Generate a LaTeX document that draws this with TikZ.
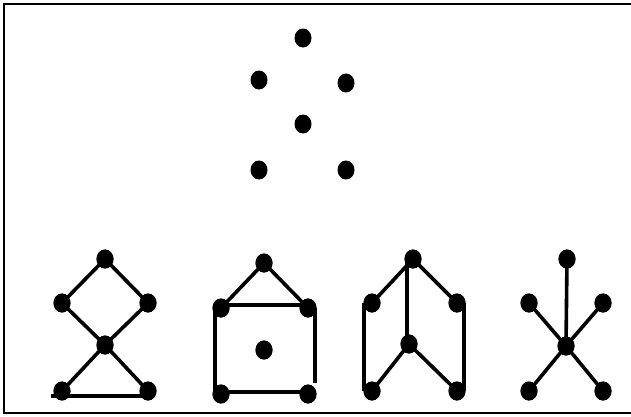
\documentclass[tikz,border=0pt]{standalone}
\usetikzlibrary{shapes.geometric}
\begin{document}
\begin{tikzpicture}[x=1pt,y=-1pt,
  dot/.style={ellipse,fill=black,inner sep=0pt,minimum width=17pt,minimum height=19pt},
  edge/.style={line width=3.6pt,line cap=butt},
  frame/.style={line width=2.6pt}]
\useasboundingbox (0,0) rectangle (631,416);
\draw[frame] (635,4) -- (4,4) -- (4,413) -- (635,413);

% isolated points at the top
\node[dot] (p1) at (303,38) {};
\node[dot] (p2) at (259,80) {};
\node[dot] (p3) at (346,83) {};
\node[dot] (p4) at (303,124) {};
\node[dot] (p5) at (259,170) {};
\node[dot] (p6) at (346,170) {};

% graph A: diamond over a triangle
\node[dot] (a1) at (105,259) {};
\node[dot] (a2) at (62,303) {};
\node[dot] (a3) at (148,303) {};
\node[dot] (a4) at (105,345) {};
\node[dot] (a5) at (62,391) {};
\node[dot] (a6) at (148,391) {};
\coordinate (a0) at (51,396);
\coordinate (a7) at (148,396);
\draw[edge] (a1.center) -- (a2.center) -- (a4.center) -- (a3.center) -- (a1.center);
\draw[edge] (a4.center) -- (a5.center);
\draw[edge] (a4.center) -- (a6.center);
\draw[edge] (a0) -- (a7);

% graph B: house with an isolated point inside
\node[dot] (b1) at (264,263) {};
\node[dot] (b2) at (221,308) {};
\node[dot] (b3) at (308,308) {};
\node[dot] (b4) at (264,350) {};
\node[dot] (b5) at (221,394) {};
\node[dot] (b6) at (308,394) {};
\coordinate (b7) at (315,383);
\draw[edge] (b2.center) -- (b1.center) -- (b3.center);
\draw[edge] ([yshift=3pt]b2.center) -- ([yshift=3pt]b3.center);
\draw[edge] ([xshift=-6pt,yshift=3pt]b2.center) -- ([xshift=-6pt]b5.center);
\draw[edge] ([xshift=7pt]b3.center) -- (b7);
\draw[edge] ([yshift=2pt]b5.center) -- ([yshift=2pt]b6.center);

% graph C: open book
\node[dot] (c1) at (413,259) {};
\node[dot] (c2) at (372,303) {};
\node[dot] (c3) at (457,303) {};
\node[dot] (c4) at (409,344) {};
\node[dot] (c5) at (372,391) {};
\node[dot] (c6) at (457,391) {};
\draw[edge] (c2.center) -- (c1.center) -- (c3.center);
\draw[edge] ([xshift=-6pt]c1.center) -- ([xshift=-2pt]c4.center);
\draw[edge] ([xshift=-8pt]c2.center) -- ([xshift=-8pt]c5.center);
\draw[edge] ([xshift=7pt]c3.center) -- ([xshift=7pt]c6.center);
\draw[edge] (c5.center) -- (c4.center) -- (c6.center);

% graph D: star
\node[dot] (d1) at (567,259) {};
\node[dot] (d2) at (529,303) {};
\node[dot] (d3) at (603,303) {};
\node[dot] (d4) at (566,346) {};
\node[dot] (d5) at (529,391) {};
\node[dot] (d6) at (603,391) {};
\draw[edge] (d4.center) -- (d1.center);
\draw[edge] (d4.center) -- (d2.center);
\draw[edge] (d4.center) -- (d3.center);
\draw[edge] (d4.center) -- (d5.center);
\draw[edge] (d4.center) -- (d6.center);

% dots on top of the edges
\foreach \n in {a1,a2,a3,a4,a5,a6,b1,b2,b3,b4,b5,b6,c1,c2,c3,c4,c5,c6,d1,d2,d3,d4,d5,d6}
  \fill (\n.center) ellipse (8.5pt and 9.5pt);
\end{tikzpicture}
\end{document}
